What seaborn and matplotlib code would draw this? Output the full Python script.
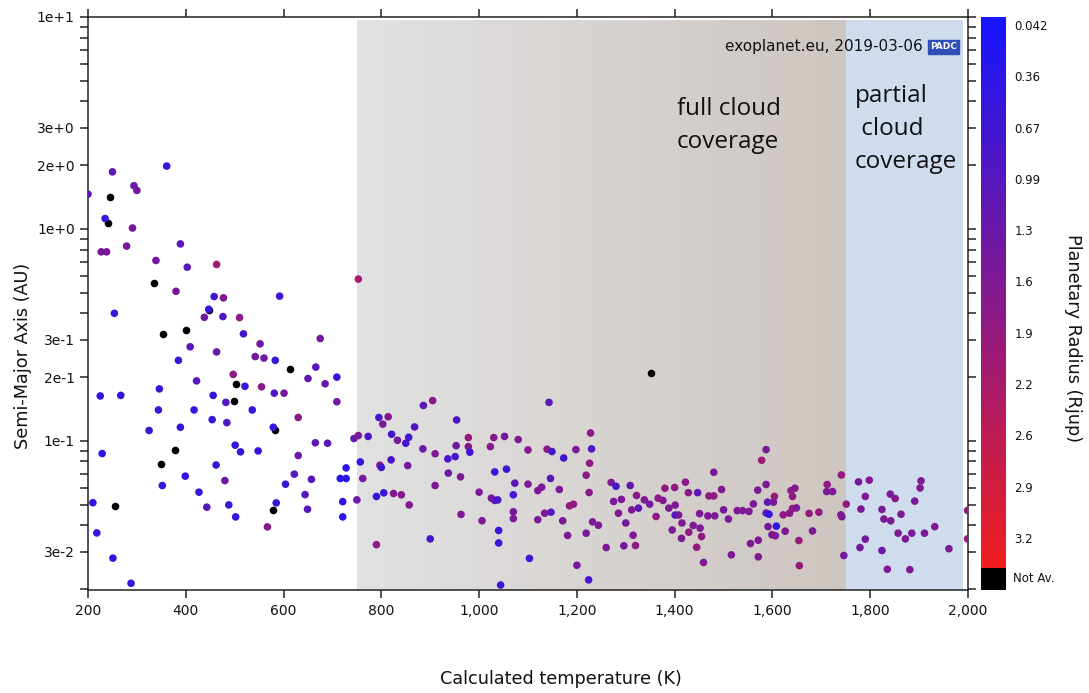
import numpy as np
import pandas as pd
import seaborn as sns
import matplotlib
matplotlib.use("Agg")
import matplotlib.pyplot as plt
from matplotlib.colors import LinearSegmentedColormap, Normalize
from matplotlib.ticker import FixedLocator, FixedFormatter, FuncFormatter
import matplotlib.cm as cm

NA = np.nan

# ---------------- data ----------------
temp_k = [
    200, 250, 361, 294, 300, 246, 235, 240, 291, 227, 238, 279, 389, 339, 403, 463, 335, 380, 458, 477, 592, 753,
    254, 447, 447, 438, 476, 510, 354, 400, 518, 675, 409, 463, 385, 542, 560, 583, 552, 614, 666, 497, 422, 650,
    685, 709, 502, 521, 346, 225, 267, 456, 555, 581, 601, 482, 499, 709, 344, 417, 536, 454, 484, 630, 325, 389,
    579, 583, 665, 690, 501, 512, 548, 378, 229, 630, 349, 462, 728, 399, 480, 622, 657, 716, 728, 352, 604, 427,
    644, 210, 488, 585, 255, 443, 649, 721, 750, 579, 502, 721, 567, 218, 251, 288,
    1351, 886, 905, 1143, 795, 814, 803, 954, 868, 821, 744, 753, 773, 833, 850, 856, 978, 1030, 1052, 1080, 1228,
    885, 978, 981, 1023, 953, 910, 936, 951, 1100, 1139, 1149, 1198, 1230, 1173, 1226, 757, 820, 797, 800, 854,
    762, 937, 962, 1032, 1056, 1219, 1146, 1073, 1100, 910, 1270, 1280, 1309, 1422, 1480, 1380, 1400, 1428, 1447,
    1470, 1480, 1496, 1000, 1120, 1128, 1164, 1225, 1322, 1291, 1275, 1338, 1349, 1366, 1376, 1388, 1401, 1401,
    1408, 825, 841, 790, 805, 857, 1025, 1032, 1038, 1070, 1070, 1070, 1134, 1147, 1185, 1193, 1171, 1120, 1232,
    1244, 1285, 1312, 1326, 1300, 1362, 1415, 1438, 1452, 1451, 1468, 1482, 963, 1006, 1395, 1429, 1414, 1455,
    1445, 1459, 1315, 1320, 1296, 1260, 1219, 1181, 1200, 1224, 1103, 1044, 1040, 1040, 900, 790,
    1587, 1578, 1741, 1776, 1798, 1904, 1902, 1712, 1723, 1711, 1638, 1646, 1641, 1587, 1570, 1604, 1590, 1602,
    1561, 1790, 1841, 1851, 1891, 1751, 1500, 1528, 1539, 1552, 1510, 1587, 1593, 1622, 1635, 1641, 1649, 1675,
    1695, 1740, 1742, 1781, 1824, 1863, 1828, 1842, 1999, 1608, 1591, 1599, 1606, 1626, 1682, 1571, 1555, 1654,
    1790, 1857, 1885, 1911, 1932, 1872, 1779, 1824, 1961, 1999, 1516, 1571, 1746, 1655, 1835, 1881,
]
semi_major_au = [
    1.46, 1.86, 1.98, 1.60, 1.52, 1.41, 1.12, 1.07, 1.01, 0.78, 0.78, 0.83, 0.85, 0.71, 0.66, 0.68, 0.555, 0.508,
    0.48, 0.473, 0.482, 0.58,
    0.400, 0.414, 0.418, 0.383, 0.386, 0.382, 0.320, 0.334, 0.320, 0.304, 0.278, 0.263, 0.240, 0.250, 0.246, 0.240,
    0.287, 0.219, 0.223, 0.206, 0.192, 0.197, 0.186, 0.200, 0.186, 0.181, 0.176, 0.163, 0.164, 0.164, 0.180, 0.168,
    0.168, 0.152, 0.155, 0.153, 0.140, 0.140, 0.140, 0.126, 0.122, 0.129, 0.112, 0.116, 0.116, 0.113, 0.098, 0.0975,
    0.0955, 0.0888, 0.0897, 0.0907, 0.0872, 0.0853, 0.0782, 0.077, 0.0746, 0.0682, 0.065, 0.0697, 0.0659, 0.0665,
    0.0665, 0.0616, 0.0625, 0.0573, 0.0558, 0.0511, 0.0499, 0.0510, 0.0494, 0.0487, 0.0476, 0.0517, 0.0527, 0.0473,
    0.0438, 0.0438, 0.0393, 0.0368, 0.0280, 0.0213,
    0.209, 0.147, 0.155, 0.152, 0.129, 0.130, 0.120, 0.1256, 0.1164, 0.1075, 0.1026, 0.106, 0.105, 0.1007, 0.0975,
    0.104, 0.1037, 0.1037, 0.105, 0.1015, 0.109, 0.0917, 0.094, 0.0885, 0.094, 0.095, 0.087, 0.0823, 0.0843,
    0.0907, 0.0914, 0.0891, 0.091, 0.0917, 0.0831, 0.0785, 0.0796, 0.0814, 0.0768, 0.075, 0.0765, 0.0665, 0.0705,
    0.0677, 0.0714, 0.0736, 0.0689, 0.0665, 0.0632, 0.0625, 0.0616, 0.0637, 0.0611, 0.0616, 0.0639, 0.0711, 0.0598,
    0.0603, 0.057, 0.057, 0.055, 0.055, 0.059, 0.0573, 0.0583, 0.0605, 0.059, 0.0571, 0.0553, 0.053, 0.0518,
    0.0527, 0.0503, 0.0537, 0.0524, 0.0482, 0.0498, 0.0447, 0.0447, 0.0565, 0.0557, 0.0547, 0.0569, 0.0499,
    0.0537, 0.0524, 0.0527, 0.0557, 0.0463, 0.043, 0.0456, 0.0461, 0.0494, 0.0503, 0.042, 0.0425, 0.0415, 0.040,
    0.0456, 0.0473, 0.0482, 0.041, 0.044, 0.041, 0.0399, 0.0388, 0.0454, 0.0443, 0.0443, 0.045, 0.042, 0.038,
    0.0371, 0.0347, 0.0354, 0.0315, 0.0267, 0.0359, 0.0321, 0.032, 0.0314, 0.0367, 0.0358, 0.0259, 0.0221, 0.0279,
    0.0209, 0.0378, 0.033, 0.0345, 0.0324,
    0.091, 0.081, 0.0691, 0.0641, 0.0653, 0.0648, 0.060, 0.0623, 0.0577, 0.0577, 0.0583, 0.0598, 0.0547, 0.0623,
    0.0586, 0.0547, 0.0514, 0.0514, 0.0504, 0.0547, 0.0561, 0.0535, 0.052, 0.0503, 0.0473, 0.0469, 0.0469,
    0.0465, 0.0428, 0.0457, 0.0451, 0.0448, 0.0456, 0.048, 0.0483, 0.0455, 0.0461, 0.0448, 0.0439, 0.0477,
    0.0475, 0.0451, 0.0428, 0.042, 0.047, 0.0396, 0.0394, 0.0361, 0.0357, 0.0375, 0.0376, 0.034, 0.0328, 0.0339,
    0.0344, 0.0367, 0.0367, 0.0367, 0.0394, 0.0345, 0.0314, 0.0304, 0.031, 0.0345, 0.029, 0.0284, 0.0288, 0.0258,
    0.0248, 0.0247,
]
radius_rjup = [
    1.1, 1.1, 0.5, 1.2, 1.5, NA, 0.6, NA, 1.5, 1.5, 1.5, 1.5, 1.0, 1.4, 1.0, 2.1, NA, 1.5, 0.7, 1.6, 0.7, 2.2,
    0.5, NA, 0.5, 1.4, 0.9, 1.8, NA, NA, 0.7, 1.5, 1.0, 1.3, 0.6, 1.4, 1.4, 0.6, 1.4, NA, 1.0, 1.9, 1.0, 1.2,
    1.3, 0.5, NA, 0.6, 0.6, 0.5, 0.5, 0.5, 1.8, 0.9, 1.5, 0.9, NA, 1.4, 0.6, 0.5, 0.5, 0.6, 0.9, 1.8, 0.6, 0.5,
    0.5, NA, 1.1, 1.1, 0.5, 0.5, 0.5, NA, 0.4, 1.3, NA, 0.6, 0.4, 0.5, 1.3, 1.0, 1.0, 0.3, 0.3, 0.5, 0.6, 0.6,
    1.0, 0.4, 0.6, 0.5, NA, 1.0, 1.0, 0.4, 1.3, NA, 0.5, 0.4, 1.8, 0.5, 0.5, 0.5,
    NA, 1.1, 1.8, 1.1, 0.8, 1.7, 1.6, 0.8, 0.9, 0.8, 1.2, 1.6, 0.8, 1.5, 0.8, 0.7, 2.0, 1.8, 1.4, 1.6, 1.8,
    1.3, 1.7, 0.7, 1.7, 1.4, 1.6, 0.8, 0.7, 1.7, 1.8, 0.8, 1.6, 0.9, 0.7, 1.9, 0.5, 0.8, 1.8, 0.7, 1.5,
    1.5, 1.3, 1.6, 0.6, 0.6, 1.8, 1.0, 1.1, 1.6, 1.6, 1.6, 0.8, 1.2, 1.8, 1.6, 1.9, 1.9, 1.8, 1.1,
    1.9, 1.9, 1.6, 1.6, 1.6, 1.6, 1.6, 1.8, 1.8, 1.6, 1.6, 1.6, 1.5, 1.9, 1.6, 1.6, 1.6, 0.9,
    1.5, 1.7, 1.7, 0.5, 0.6, 1.7, 1.6, 1.1, 0.8, 0.8, 1.5, 1.6, 1.6, 1.0, 1.9, 1.9, 1.6, 1.6, 1.6,
    1.6, 1.6, 1.6, 1.1, 1.5, 1.9, 1.6, 1.6, 1.6, 1.6, 1.6, 1.6, 1.6, 1.6, 1.6, 1.9, 1.6, 1.9,
    1.9, 1.6, 1.6, 1.9, 1.5, 1.6, 1.5, 1.6, 1.5, 0.7, 0.7, 0.6, 0.6, 0.6, 0.8, 1.9,
    1.6, 2.1, 2.0, 1.5, 1.6, 1.7, 1.7, 1.9, 1.6, 1.6, 1.9, 1.7, 1.9, 1.6, 1.6, 2.0, 1.1, 1.5,
    1.6, 1.6, 1.6, 1.7, 1.6, 1.9, 1.5, 1.6, 1.6, 1.6, 1.6, 1.2, 0.5, 1.9, 1.8, 1.9, 1.6, 1.9,
    1.9, 1.6, 1.6, 1.6, 1.6, 1.6, 1.6, 1.6, 2.0, 0.4, 1.5, 1.6, 1.6, 1.6, 1.6, 1.6, 1.6, 2.0,
    1.5, 1.6, 1.6, 1.6, 1.6, 1.6, 1.5, 1.3, 1.6, 2.0, 1.6, 1.6, 1.5, 2.0, 1.6, 1.6,
]

x_ticks = [200, 400, 600, 800, 1000, 1200, 1400, 1600, 1800, 2000]
y_major = [0.03, 0.1, 0.2, 0.3, 1, 2, 3, 10]
y_major_labels = ["3e-2", "1e-1", "2e-1", "3e-1", "1e+0", "2e+0", "3e+0", "1e+1"]
y_minor = [0.02, 0.04, 0.05, 0.06, 0.07, 0.08, 0.09, 0.4, 0.5, 0.6, 0.7, 0.8, 0.9, 4, 5, 6, 7, 8, 9]
cbar_labels = ["0.042", "0.36", "0.67", "0.99", "1.3", "1.6", "1.9", "2.2", "2.6", "2.9", "3.2"]
cbar_first, cbar_last = 0.042, 3.2
full_cloud_range = (750, 1750)
partial_cloud_range = (1750, 1990)

df = pd.DataFrame({"temp": temp_k, "a": semi_major_au, "radius": radius_rjup})
known = df[df["radius"].notna()]
unknown = df[df["radius"].isna()]

# ---------------- style ----------------
sns.set_theme(style="ticks")
plt.rcParams["font.family"] = ["DejaVu Sans"]
ANNOT_FONT = ["Open Sans", "DejaVu Sans"]

fig = plt.figure(figsize=(10.89, 6.93), dpi=100)
W, H = 1089, 693
def fr(l, t, r, b):
    return [l / W, 1 - b / H, (r - l) / W, (b - t) / H]

ax = fig.add_axes(fr(88, 17, 968, 590))
ax.set_yscale("log")
ymin, ymax = 0.0198, 10.0
shade_top = 9.68

# background regions
gray_cmap = LinearSegmentedColormap.from_list("g", ["#e1e1e1", "#cdc5c0"])
xe = np.linspace(full_cloud_range[0], full_cloud_range[1], 201)
ax.pcolormesh(xe, [ymin, shade_top], np.linspace(0, 1, 200)[None, :], cmap=gray_cmap,
              shading="flat", zorder=0)
ax.fill_between(list(partial_cloud_range), ymin, shade_top, color="#cfdcee", linewidth=0, zorder=0)

cmap = LinearSegmentedColormap.from_list("radius", ["#1414ff", "#f21e1e"])
norm = Normalize(vmin=-0.007, vmax=3.385)

sns.scatterplot(data=unknown, x="temp", y="a", color="black", s=30, linewidth=0,
                ax=ax, zorder=3)
sns.scatterplot(data=known, x="temp", y="a", hue="radius", palette=cmap, hue_norm=norm,
                s=30, linewidth=0, legend=False, ax=ax, zorder=3)

ax.set_xlim(200, 2000)
ax.set_ylim(ymin, ymax)
ax.xaxis.set_major_locator(FixedLocator(x_ticks))
ax.xaxis.set_major_formatter(FuncFormatter(lambda v, p: f"{int(v):,}"))
ax.yaxis.set_major_locator(FixedLocator(y_major))
ax.yaxis.set_major_formatter(FixedFormatter(y_major_labels))
ax.yaxis.set_minor_locator(FixedLocator(y_minor))
ax.yaxis.set_minor_formatter(FixedFormatter([""] * len(y_minor)))
ax.tick_params(axis="both", which="both", direction="out", length=6, width=1.1,
               color="#222222", labelsize=10, labelcolor="#111111", top=True, right=True)
ax.tick_params(axis="x", pad=4)
for sp in ax.spines.values():
    sp.set_visible(True)
    sp.set_color("#222222")
    sp.set_linewidth(1.1)

ax.set_xlabel("Calculated temperature (K)", fontsize=12.7, color="#111111", va="center")
ax.set_ylabel("Semi-Major Axis (AU)", fontsize=12.7, color="#111111", va="center", ha="center")
ax.xaxis.set_label_coords(0.5375, -0.156)
ax.yaxis.set_label_coords(-0.0739, 0.408)

# annotations
ax.text(1405, 3.09, "full cloud\ncoverage", fontsize=17.5, family=ANNOT_FONT, color="#111111",
        ha="left", va="center", linespacing=1.5, zorder=4)
ax.text(1768, 2.96, "partial\n cloud\ncoverage", fontsize=17.5, family=ANNOT_FONT, color="#111111",
        ha="left", va="center", linespacing=1.5, zorder=4)
ax.text(0.9489, 0.948, "exoplanet.eu, 2019-03-06", transform=ax.transAxes, fontsize=11,
        ha="right", va="center", color="#111111", zorder=4)
ax.text(0.9725, 0.948, "PADC", transform=ax.transAxes, fontsize=6.5, ha="center", va="center",
        color="white", fontweight="bold", zorder=4,
        bbox=dict(boxstyle="square,pad=0.25", facecolor="#2f4fb8", edgecolor="#2f4fb8"))

# colorbar
cax = fig.add_axes(fr(981, 17, 1006, 568))
cb = fig.colorbar(cm.ScalarMappable(norm=norm, cmap=cmap), cax=cax, orientation="vertical")
cb.outline.set_visible(False)
cax.invert_yaxis()
cb.set_ticks(np.linspace(cbar_first, cbar_last, len(cbar_labels)))
cb.set_ticklabels(cbar_labels)
cax.tick_params(length=0, pad=6, labelsize=8.5, labelcolor="#111111")

nax = fig.add_axes(fr(981, 568, 1006, 590))
nax.set_facecolor("black")
nax.set_xticks([])
nax.set_yticks([])
for sp in nax.spines.values():
    sp.set_visible(False)
nax.text(1.28, 0.5, "Not Av.", transform=nax.transAxes, fontsize=8.5, ha="left", va="center",
         color="#111111")

fig.text(1073 / W, 1 - 338 / H, "Planetary Radius (Rjup)", rotation=270, fontsize=12.7,
         ha="center", va="center", color="#111111")

fig.savefig("out.png", dpi=100, facecolor="white")
